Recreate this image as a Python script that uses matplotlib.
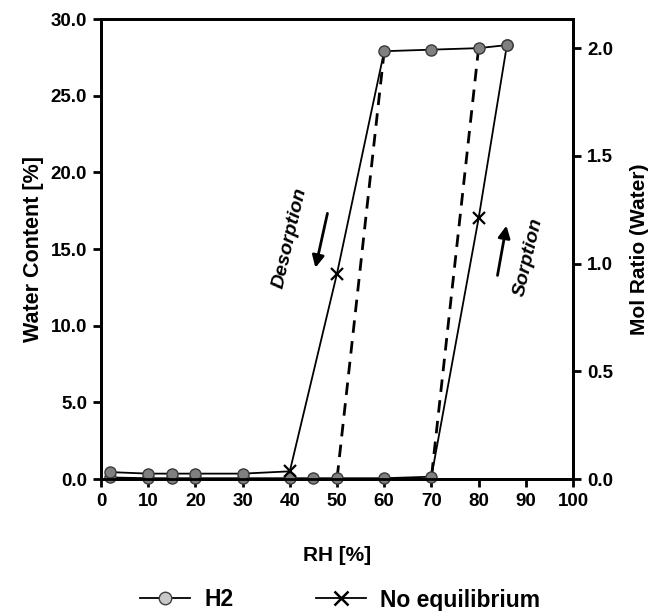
import matplotlib
matplotlib.use("Agg")
import matplotlib.pyplot as plt
from matplotlib.lines import Line2D
from matplotlib.ticker import FormatStrFormatter

plt.rcParams.update({"font.family": ["Liberation Sans", "DejaVu Sans"],
                     "font.weight": "bold", "axes.labelweight": "bold"})

# sorption branch (RH up), water content [%]
rh_sorp = [2, 10, 15, 20, 30, 40, 45, 50, 60, 70, 80, 86]
wc_sorp = [0.1, 0.05, 0.05, 0.05, 0.05, 0.05, 0.05, 0.05, 0.05, 0.15, 17.0, 28.3]
noeq_sorp = [False] * 10 + [True, False]

# desorption branch (RH down)
rh_desorp = [86, 80, 70, 60, 50, 40, 30, 20, 15, 10, 2]
wc_desorp = [28.3, 28.1, 28.0, 27.9, 13.4, 0.5, 0.35, 0.35, 0.35, 0.35, 0.45]
noeq_desorp = [False, False, False, False, True, True, False, False, False, False, False]

# dashed equilibrium steps
rh_step1, wc_step1 = [60, 50], [27.9, 0.0]
rh_step2, wc_step2 = [80, 70], [28.1, 0.1]

W, H = 654, 611
fig = plt.figure(figsize=(W / 100, H / 100), dpi=100)
ax = fig.add_axes([101 / W, 1 - 479 / H, (573 - 101) / W, (479 - 19) / H])

circ = dict(marker="o", ms=8, mfc="#808080", mec="#3a3a3a", mew=1.0, ls="none",
            zorder=4, clip_on=False)
xm = dict(marker="x", ms=9, mec="black", mew=1.6, ls="none", zorder=5, clip_on=False)

for rh, wc, flag in [(rh_sorp, wc_sorp, noeq_sorp), (rh_desorp, wc_desorp, noeq_desorp)]:
    ax.plot(rh, wc, color="black", lw=1.3, zorder=3)
    ax.plot([r for r, f in zip(rh, flag) if not f], [w for w, f in zip(wc, flag) if not f], **circ)
    ax.plot([r for r, f in zip(rh, flag) if f], [w for w, f in zip(wc, flag) if f], **xm)

for rh, wc in [(rh_step1, wc_step1), (rh_step2, wc_step2)]:
    ax.plot(rh, wc, color="black", lw=2.0, ls=(0, (4.5, 3)), zorder=2)

ax.set_xlim(0, 100)
ax.set_ylim(0, 30)
ax.set_xticks(range(0, 101, 10))
ax.set_yticks([0, 5, 10, 15, 20, 25, 30])
ax.yaxis.set_major_formatter(FormatStrFormatter("%.1f"))
ax.tick_params(labelsize=13.5, width=2, length=6, direction="out", pad=4)
for s in ax.spines.values():
    s.set_linewidth(2)
ax.set_xlabel("RH [%]", fontsize=15, labelpad=26)
ax.set_ylabel("Water Content [%]", fontsize=15.5, labelpad=5)

ax2 = ax.twinx()
ax2.set_ylim(0, 2.135)
ax2.set_yticks([0, 0.5, 1.0, 1.5, 2.0])
ax2.yaxis.set_major_formatter(FormatStrFormatter("%.1f"))
ax2.tick_params(labelsize=13.5, width=2, length=6, direction="out", pad=4)
for s in ax2.spines.values():
    s.set_linewidth(2)
ax2.set_ylabel("Mol Ratio (Water)", fontsize=15, labelpad=12)

# annotations
ax.text(40, 15.7, "Desorption", rotation=77, fontsize=14, style="italic",
        ha="center", va="center")
ax.text(90.5, 14.5, "Sorption", rotation=77, fontsize=14, style="italic",
        ha="center", va="center")
ax.annotate("", xy=(45.3, 13.6), xytext=(48.1, 17.5),
            arrowprops=dict(arrowstyle="-|>", color="black", lw=2, mutation_scale=18))
ax.annotate("", xy=(86.0, 16.7), xytext=(83.9, 13.1),
            arrowprops=dict(arrowstyle="-|>", color="black", lw=2, mutation_scale=18))

handles = [Line2D([], [], color="black", lw=1.3, marker="o", ms=9, mfc="#c8c8c8", mec="#404040"),
           Line2D([], [], color="black", lw=1.3, marker="x", ms=10, mec="black", mew=1.8)]
fig.legend(handles, ["H2", "No equilibrium"], loc="center", ncol=2, frameon=False,
           bbox_to_anchor=(340 / W, 1 - 600 / H), fontsize=16.5, handlelength=2.2,
           columnspacing=3.6, handletextpad=0.6)

fig.savefig("out.png", dpi=100)
